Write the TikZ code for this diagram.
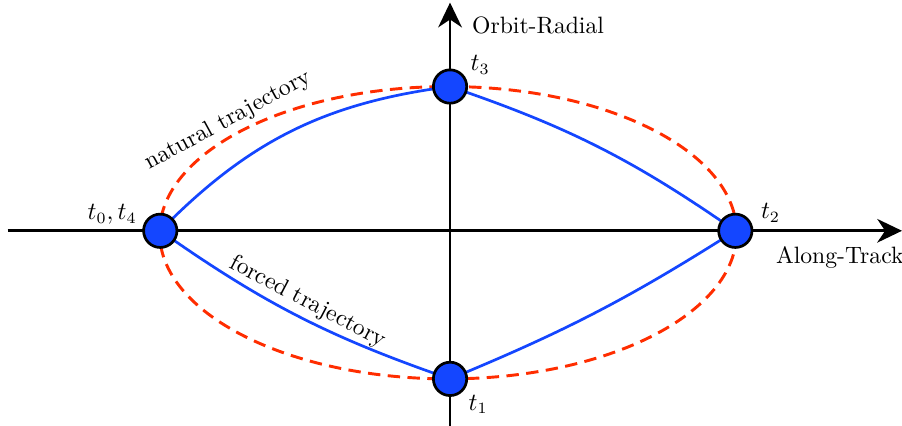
\documentclass[tikz,border=0pt]{standalone}
\usepackage{amsmath,amssymb}
\usetikzlibrary{positioning,calc,arrows.meta}
\definecolor{orbblue}{RGB}{20,70,255}
\definecolor{orbred}{RGB}{255,45,0}
\tikzset{
  axis/.style={line width=1.25pt,-{Stealth[length=11pt,width=10.5pt,inset=3.5pt]}},
  natural/.style={orbred,line width=1.3pt,dash pattern=on 5.5pt off 3.3pt},
  forced/.style={orbblue,line width=1.2pt},
  tpoint/.style={circle,draw=black,line width=1.2pt,fill=orbblue,minimum size=0.52cm,inner sep=0pt}
}
\begin{document}
\begin{tikzpicture}[font=\fontsize{10.5}{12.5}\selectfont]
		\useasboundingbox (-7.02,-3.04) rectangle (7.05,3.60);
		% axes
		\coordinate (west) at (-6.9,0);
		\coordinate (east) at (7.05,0);
		\coordinate (south) at (0,-3.1);
		\coordinate (north) at (0,3.56);
		\draw[axis] (west) -- (east);
		\draw[axis] (south) -- (north);
		\node[anchor=west] (radial) at (0.22,3.21) {Orbit-Radial};
		\node (track) at (6.08,-0.42) {Along-Track};
		% points of the orbit
		\coordinate (p0) at (-4.52,0);
		\coordinate (p1) at (0,-2.31);
		\coordinate (p2) at (4.45,0);
		\coordinate (p3) at (0,2.25);
		\draw[natural] (-0.03,-0.03) ellipse (4.5cm and 2.28cm);
		\draw[forced] (p0) to[bend left=19] (p3);
		\draw[forced] (p3) to[bend left=8] (p2);
		\draw[forced] (p2) to[bend left=5] (p1);
		\draw[forced] (p1) to[bend left=8] (p0);
		\node[tpoint] (n0) at (p0) {};
		\node[tpoint] (n1) at (p1) {};
		\node[tpoint] (n2) at (p2) {};
		\node[tpoint] (n3) at (p3) {};
		\node (l0) at (-5.27,0.25) {$t_0,t_4$};
		\node (l1) at (0.44,-2.71) {$t_1$};
		\node (l2) at (5.0,0.28) {$t_2$};
		\node (l3) at (0.47,2.59) {$t_3$};
		\node[rotate=28.6] (nat) at (-3.46,1.72) {natural trajectory};
		\node[rotate=-27.6] (forc) at (-2.22,-1.11) {forced trajectory};
	\end{tikzpicture}
\end{document}
